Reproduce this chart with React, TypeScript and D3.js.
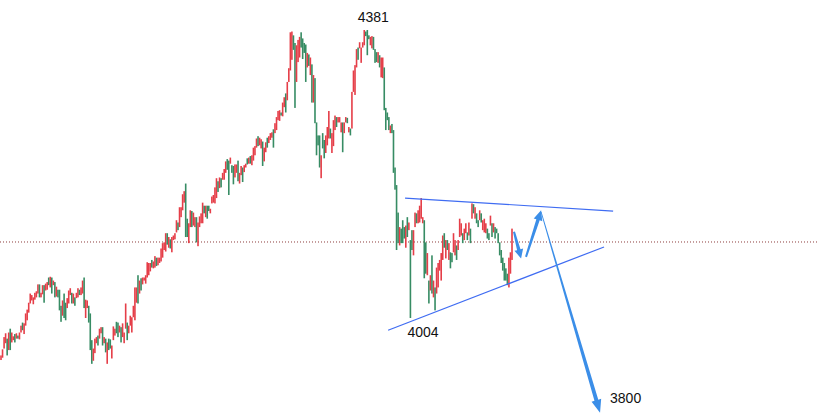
import React from 'react';
import * as d3 from 'd3';

// ---- candle data (open / close), oldest first ----
const opens: number[] = [
  3949,3952,3964,3971,3977,3962,3990,3972,3975,3983,
  3977,3981,3976,3985,3998,3983,3994,4001,4011,4023,
  4027,4022,4028,4031,4036,4048,4031,4035,4047,4040,
  4041,4057,4044,4057,4047,4051,4032,4041,4041,4020,
  4007,4036,4024,4017,4023,4034,4037,4023,4031,4030,
  4031,4041,4034,4036,4057,4004,4017,4020,4010,3975,
  3948,3958,3971,3981,3977,3984,3992,3971,3977,3944,
  3977,3976,3951,3975,3981,3999,3998,3985,3992,3979,
  3971,3990,3998,3984,3994,3985,4005,4001,4024,4060,
  4036,4056,4048,4053,4049,4057,4060,4065,4080,4069,
  4070,4083,4073,4076,4078,4083,4093,4091,4115,4096,
  4107,4090,4106,4107,4116,4129,4123,4136,4145,4155,
  4180,4134,4102,4123,4144,4125,4123,4136,4098,4123,
  4128,4128,4151,4136,4151,4151,4141,4154,4155,4154,
  4161,4183,4174,4187,4185,4185,4194,4212,4210,4206,
  4204,4203,4188,4194,4210,4180,4191,4201,4195,4201,
  4213,4206,4216,4204,4210,4217,4227,4242,4230,4226,
  4235,4209,4221,4240,4233,4237,4240,4251,4246,4250,
  4263,4262,4273,4268,4280,4298,4289,4313,4328,4342,
  4374,4364,4313,4339,4345,4378,4370,4364,4362,4332,
  4349,4322,4336,4286,4318,4260,4243,4243,4187,4246,
  4237,4220,4230,4239,4252,4220,4229,4250,4267,4260,
  4260,4247,4260,4246,4260,4266,4247,4252,4252,4300,
  4296,4332,4358,4357,4338,4358,4361,4379,4381,4374,
  4361,4357,4372,4356,4352,4338,4348,4319,4318,4332,
  4279,4273,4267,4246,4258,4250,4201,4178,4142,4099,
  4121,4132,4123,4096,4136,4119,4106,4119,4086,4123,
  4141,4128,4129,4134,4128,4132,4103,4060,4053,4040,
  4086,4031,4044,4036,4044,4066,4053,4080,4115,4082,
  4106,4080,4090,4089,4090,4086,4099,4093,4110,4112,
  4115,4106,4115,4116,4112,4121,4134,4153,4134,4141,
  4132,4132,4141,4119,4116,4115,4121,4115,4125,4128,
  4116,4123,4121,4115,4103,4093,4083,4076,4069,4062,
  4044,4062,4080,
];

const closes: number[] = [
  3955,3963,3979,3984,3955,3985,3962,3985,3980,3972,
  3984,3977,3985,3994,3988,3997,4010,4015,4024,4036,
  4034,4031,4037,4039,4048,4031,4037,4047,4024,4049,
  4051,4047,4058,4036,4053,4031,4045,4031,4014,3999,
  4027,4004,4001,4030,4040,4043,4023,4036,4020,4037,
  4043,4034,4044,4053,4017,4028,4027,3998,3962,3944,
  3964,3977,3979,3968,3990,3992,3968,3979,3959,3972,
  3962,3964,3968,3993,3990,3984,3979,3994,3972,3997,
  3985,4023,3975,3994,4007,4005,4020,4044,4044,4023,
  4053,4040,4057,4057,4060,4077,4076,4076,4070,4078,
  4085,4072,4083,4083,4095,4102,4103,4115,4100,4110,
  4095,4110,4112,4115,4132,4119,4149,4149,4166,4170,
  4110,4110,4128,4145,4123,4142,4136,4103,4129,4137,
  4141,4155,4141,4151,4134,4144,4147,4163,4165,4175,
  4187,4169,4188,4175,4194,4199,4209,4198,4165,4214,
  4194,4179,4205,4205,4183,4194,4203,4182,4204,4206,
  4205,4214,4206,4217,4227,4229,4239,4229,4240,4238,
  4203,4227,4234,4227,4242,4246,4247,4227,4259,4267,
  4275,4276,4269,4286,4293,4273,4313,4331,4378,4379,
  4355,4279,4361,4368,4372,4358,4343,4351,4313,4351,
  4334,4345,4286,4322,4259,4217,4230,4201,4217,4226,
  4213,4243,4254,4275,4239,4246,4263,4269,4254,4267,
  4267,4260,4221,4260,4267,4259,4254,4243,4300,4328,
  4335,4356,4342,4365,4358,4365,4381,4373,4348,4369,
  4372,4373,4355,4338,4339,4352,4332,4345,4345,4276,
  4250,4263,4250,4256,4246,4194,4172,4093,4102,4123,
  4102,4102,4108,4125,4110,4129,4004,4093,4119,4142,
  4128,4145,4151,4161,4136,4056,4062,4089,4023,4060,
  4036,4053,4014,4070,4076,4080,4089,4112,4096,4106,
  4093,4102,4069,4077,4115,4106,4080,4106,4134,4128,
  4102,4121,4128,4106,4129,4102,4154,4141,4149,4128,
  4123,4145,4129,4132,4134,4128,4108,4106,4138,4110,
  4128,4108,4115,4102,4086,4076,4066,4053,4053,4047,
  4083,4090,4121,
];

// reference price line (dotted)
const refPrice = 4103.5;

// trend lines: [candle index, price]
const upperTrend: [number, number][] = [[262.5, 4161], [397.7, 4144]];
const lowerTrend: [number, number][] = [[251.5, 3988], [391.8, 4097]];

// projected path arrows: [from, to] in [candle index, price]
const arrowPaths: [[number, number], [number, number]][] = [
  [[333.3, 4117], [337.9, 4082]],
  [[341.1, 4084], [350.9, 4145]],
  [[350.9, 4143], [389.2, 3880]],
];

// labels
const highLabel = '4381';
const lowLabel = '4004';
const targetLabel = '3800';

const W = 819;
const H = 415;
const RED = '#e53e48';
const GREEN = '#378c64';
const TREND = '#3f6cf2';
const ARROW = '#3b8ee8';

const arrowStyle = [
  { w0: 2, w1: 3.5, hw: 9, hl: 9 },
  { w0: 2, w1: 3.5, hw: 9, hl: 10 },
  { w0: 0.8, w1: 4, hw: 10, hl: 13 },
];

function arrowPolygon(p0: [number, number], p1: [number, number], w0: number, w1: number, hw: number, hl: number) {
  const dx = p1[0] - p0[0];
  const dy = p1[1] - p0[1];
  const len = Math.hypot(dx, dy);
  const ux = dx / len, uy = dy / len;
  const nx = -uy, ny = ux;
  const bx = p1[0] - ux * hl, by = p1[1] - uy * hl;
  const pts: [number, number][] = [
    [p0[0] + nx * w0 / 2, p0[1] + ny * w0 / 2],
    [bx + nx * w1 / 2, by + ny * w1 / 2],
    [bx + nx * hw / 2, by + ny * hw / 2],
    [p1[0], p1[1]],
    [bx - nx * hw / 2, by - ny * hw / 2],
    [bx - nx * w1 / 2, by - ny * w1 / 2],
    [p0[0] - nx * w0 / 2, p0[1] - ny * w0 / 2],
  ];
  return pts.map((p) => p.join(',')).join(' ');
}

export default function App() {
  const n = Math.min(opens.length, closes.length);
  const x = d3.scaleLinear().domain([0, 332]).range([1, 512]);
  const y = d3.scaleLinear().domain([4004, 4381]).range([318, 30]);
  const line = d3.line<[number, number]>().x((d) => x(d[0])).y((d) => y(d[1]));
  const barW = 1.6;

  const idxs = d3.range(n);
  const hiIdx = d3.maxIndex(idxs, (i) => Math.max(opens[i], closes[i]) + i * 1e-6);
  const loIdx = closes.lastIndexOf(+lowLabel);
  const lastArrow = arrowPaths[arrowPaths.length - 1];

  return (
    <svg
      width={W}
      height={H}
      style={{ position: 'absolute', left: 0, top: 0, background: '#fff' }}
      fontFamily="'Liberation Sans', Arial, sans-serif"
    >
      <line
        x1={0}
        x2={W}
        y1={y(refPrice)}
        y2={y(refPrice)}
        stroke="#8c3c3c"
        strokeWidth={1}
        strokeDasharray="1,2"
      />
      {idxs.map((i) => {
        const o = opens[i];
        const c = closes[i];
        const top = y(Math.max(o, c));
        const bot = y(Math.min(o, c));
        return (
          <rect
            key={i}
            x={x(i) - barW / 2}
            y={top}
            width={barW}
            height={Math.max(1, bot - top)}
            fill={c >= o ? RED : GREEN}
          />
        );
      })}
      <path d={line(upperTrend) || ''} stroke={TREND} strokeWidth={1.2} fill="none" />
      <path d={line(lowerTrend) || ''} stroke={TREND} strokeWidth={1.2} fill="none" />
      {arrowPaths.map((a, k) => {
        const s = arrowStyle[k];
        const p0: [number, number] = [x(a[0][0]), y(a[0][1])];
        const p1: [number, number] = [x(a[1][0]), y(a[1][1])];
        return <polygon key={k} points={arrowPolygon(p0, p1, s.w0, s.w1, s.hw, s.hl)} fill={ARROW} />;
      })}
      <text x={x(hiIdx) + 6} y={y(4381) - 8} fontSize={14} textAnchor="middle" fill="#111">
        {highLabel}
      </text>
      <text x={x(loIdx) - 3} y={y(4004) + 19} fontSize={14} fill="#111">
        {lowLabel}
      </text>
      <text x={x(lastArrow[1][0]) + 10} y={y(lastArrow[1][1]) - 10} fontSize={14} fill="#111">
        {targetLabel}
      </text>
    </svg>
  );
}
